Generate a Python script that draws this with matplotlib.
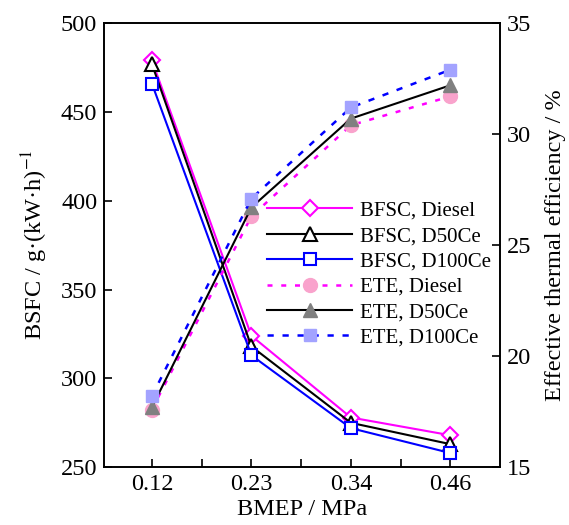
import numpy as np
import matplotlib
matplotlib.use("Agg")
import matplotlib.pyplot as plt

plt.rcParams['font.family'] = ['Liberation Serif', 'DejaVu Serif']
plt.rcParams['mathtext.fontset'] = 'stix'

# --- Data ---
bmep_labels = ['0.12', '0.23', '0.34', '0.46']
bsfc_diesel = [479, 324, 278, 268]
bsfc_d50ce = [477, 318, 275, 263]
bsfc_d100ce = [466, 313, 272, 258]
ete_diesel = [17.6, 26.3, 30.4, 31.7]
ete_d50ce = [17.7, 26.7, 30.7, 32.2]
ete_d100ce = [18.2, 27.1, 31.2, 32.9]

x = np.arange(len(bmep_labels))

fig = plt.figure(figsize=(5.69, 5.25), dpi=100)
ax = fig.add_axes([0.183, 0.110, 0.696, 0.846])
ax2 = ax.twinx()

# --- BSFC (left axis) ---
l1, = ax.plot(x, bsfc_diesel, color='#FF00FF', lw=1.5, marker='D', ms=8,
              mfc='white', mec='#FF00FF', mew=1.5, label='BFSC, Diesel')
l2, = ax.plot(x, bsfc_d50ce, color='black', lw=1.5, marker='^', ms=10,
              mfc='white', mec='black', mew=1.5, label='BFSC, D50Ce')
l3, = ax.plot(x, bsfc_d100ce, color='#0000FF', lw=1.5, marker='s', ms=8.5,
              mfc='white', mec='#0000FF', mew=1.5, label='BFSC, D100Ce')

# --- ETE (right axis) ---
l4, = ax2.plot(x, ete_diesel, color='#FF00FF', lw=1.8, ls=(0, (2, 3.5)),
               marker='o', ms=10, mfc='#F9A3CC', mec='#F9A3CC', label='ETE, Diesel')
l5, = ax2.plot(x, ete_d50ce, color='black', lw=1.5, ls='-',
               marker='^', ms=10, mfc='#808080', mec='#808080', label='ETE, D50Ce')
l6, = ax2.plot(x, ete_d100ce, color='#0000FF', lw=1.8, ls=(0, (2.5, 3.5)),
               marker='s', ms=9, mfc='#A3A3FF', mec='#A3A3FF', label='ETE, D100Ce')

ax.set_xlim(-0.48, 3.5)
ax.set_ylim(250, 500)
ax2.set_ylim(15, 35)
ax.set_xticks(x)
ax.set_xticklabels(bmep_labels)
ax.set_xticks(x[:-1] + 0.5, minor=True)
ax.set_yticks(np.arange(250, 501, 50))
ax2.set_yticks(np.arange(15, 36, 5))

for a in (ax, ax2):
    a.tick_params(direction='in', length=6, width=1.2, labelsize=17.5, pad=5)
    a.tick_params(which='minor', direction='in', length=6, width=1.2)
    for s in a.spines.values():
        s.set_linewidth(1.2)

ax.set_xlabel('BMEP / MPa', fontsize=17.5, labelpad=3)
ax.set_ylabel('BSFC / g\u00b7(kW\u00b7h)$^{-1}$', fontsize=17.5, labelpad=8)
ax2.set_ylabel('Effective thermal efficiency / %', fontsize=17.5, labelpad=10)

ax2.legend(handles=[l1, l2, l3, l4, l5, l6], loc='upper left',
           bbox_to_anchor=(0.469, 0.617), bbox_transform=fig.transFigure,
           frameon=False, fontsize=15, handlelength=4.1, handletextpad=0.35,
           labelspacing=0.28, borderpad=0, borderaxespad=0)

fig.savefig('out.png', dpi=100)
